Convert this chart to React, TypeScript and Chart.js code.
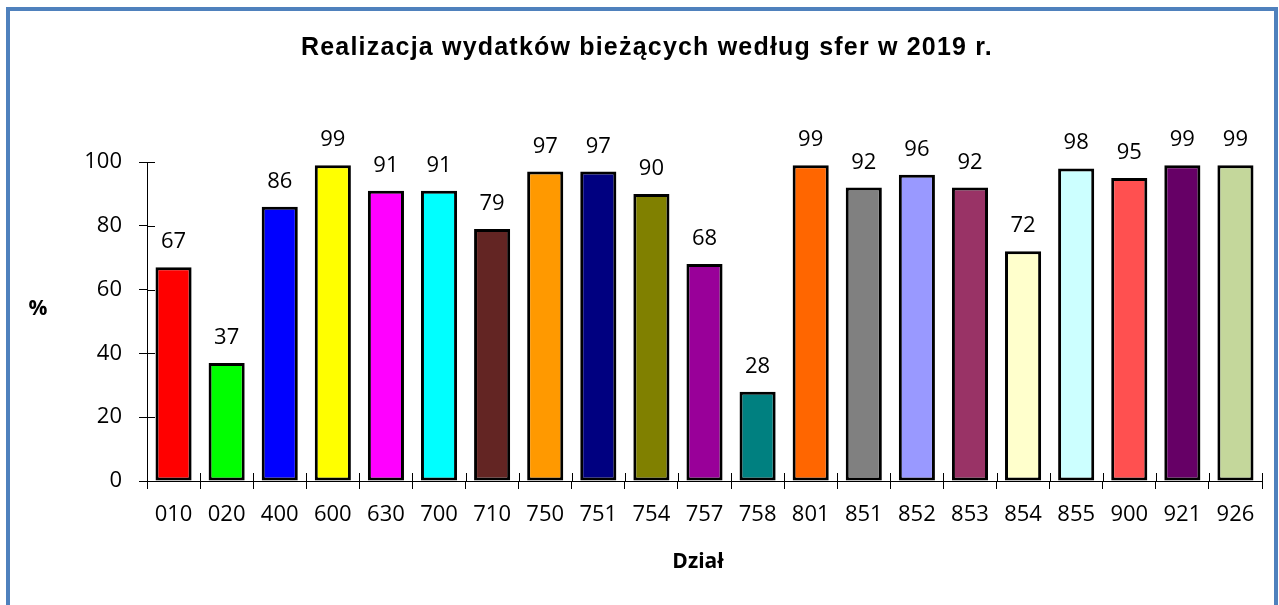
import React, { useEffect, useRef } from "react";
import { Chart, registerables } from "chart.js";

Chart.register(...registerables);

const categories = ["010", "020", "400", "600", "630", "700", "710", "750", "751", "754", "757", "758", "801", "851", "852", "853", "854", "855", "900", "921", "926"];
const values = [67, 37, 86, 99, 91, 91, 79, 97, 97, 90, 68, 28, 99, 92, 96, 92, 72, 98, 95, 99, 99];
const barColors = ["#FF0000", "#00FF00", "#0000FF", "#FFFF00", "#FF00FF", "#00FFFF", "#632523", "#FF9900", "#000080", "#808000", "#990099", "#008080", "#FF6600", "#808080", "#9999FF", "#993366", "#FFFFCC", "#CCFFFF", "#FF5050", "#660066", "#C4D79B"];
const yTicks = [0, 20, 40, 60, 80, 100];
const chartTitle = "Realizacja wydatków bieżących według sfer w 2019 r.";
const yTitle = "%";
const xTitle = "Dział";

const FONT = '"Open Sans", "Noto Sans", sans-serif';

const decorPlugin = {
  id: "decor",
  afterDraw(chart: any) {
    const ctx = chart.ctx as CanvasRenderingContext2D;
    const area = chart.chartArea;
    const xs = chart.scales.x;
    const ys = chart.scales.y;
    ctx.save();
    // inner halves of tick marks
    ctx.strokeStyle = "#000";
    ctx.lineWidth = 1;
    ctx.beginPath();
    yTicks.forEach((v) => {
      const y = Math.round(ys.getPixelForValue(v)) + 0.5;
      ctx.moveTo(area.left, y);
      ctx.lineTo(area.left + 8, y);
    });
    const n = categories.length;
    const w = (xs.right - xs.left) / n;
    for (let i = 0; i <= n; i++) {
      const x = Math.round(xs.left + i * w) + 0.5;
      ctx.moveTo(x, area.bottom);
      ctx.lineTo(x, area.bottom - 8);
    }
    ctx.stroke();

    // data labels
    ctx.fillStyle = "#000";
    ctx.font = `22px ${FONT}`;
    ctx.textAlign = "center";
    ctx.textBaseline = "alphabetic";
    const meta = chart.getDatasetMeta(0);
    meta.data.forEach((bar: any, i: number) => {
      ctx.fillText(String(Math.round(values[i])), bar.x, bar.y - 19);
    });

    // y title
    ctx.font = `bold 21px ${FONT}`;
    ctx.textBaseline = "middle";
    ctx.fillText(yTitle, 38, 309);

    // x title
    ctx.textBaseline = "alphabetic";
    ctx.fillText(xTitle, 698, 568);

    // chart title
    ctx.font = 'bold 25px "Liberation Sans", Arial, sans-serif';
    (ctx as any).letterSpacing = "1.2px";
    ctx.fillText(chartTitle, 647, 55);
    ctx.restore();
  },
};

export default function App() {
  const ref = useRef<HTMLCanvasElement | null>(null);
  useEffect(() => {
    if (!ref.current) return;
    const chart = new Chart(ref.current, {
      type: "bar",
      data: {
        labels: categories,
        datasets: [
          {
            data: values,
            backgroundColor: barColors,
            borderColor: "#000",
            borderWidth: 3,
            borderSkipped: false,
            barPercentage: 0.68,
            categoryPercentage: 1,
          },
        ],
      },
      options: {
        responsive: false,
        animation: false,
        devicePixelRatio: 1,
        layout: { padding: { top: 162, left: 10, right: 17, bottom: 0 } },
        plugins: {
          legend: { display: false },
          tooltip: { enabled: false },
          title: { display: false },
        },
        scales: {
          x: {
            grid: { display: true, drawOnChartArea: false, drawTicks: true, tickLength: 8, color: "#000", offset: true },
            border: { display: true, color: "#000", width: 1 },
            ticks: { color: "#000", padding: 13, font: { family: FONT, size: 22 }, maxRotation: 0, autoSkip: false },
            afterFit: (s: any) => { s.height = 124; },
          },
          y: {
            min: 0,
            max: 100,
            grid: { display: true, drawOnChartArea: false, drawTicks: true, tickLength: 8, color: "#000" },
            border: { display: true, color: "#000", width: 1 },
            ticks: { color: "#000", padding: 17, stepSize: 20, font: { family: FONT, size: 22 } },
            afterFit: (s: any) => { s.width = 137; },
          },
        },
      },
      plugins: [decorPlugin],
    });
    return () => chart.destroy();
  }, []);
  return (
    <div>
      <canvas ref={ref} width={1279} height={605} style={{ position: "absolute", left: 0, top: 0, width: 1279, height: 605, display: "block" }} />
      <div style={{ position: "absolute", left: 6, top: 7, width: 1272, height: 598, boxSizing: "border-box", borderTop: "4px solid #4F81BD", borderLeft: "4px solid #4F81BD", borderRight: "4px solid #4F81BD", pointerEvents: "none" }} />
    </div>
  );
}
